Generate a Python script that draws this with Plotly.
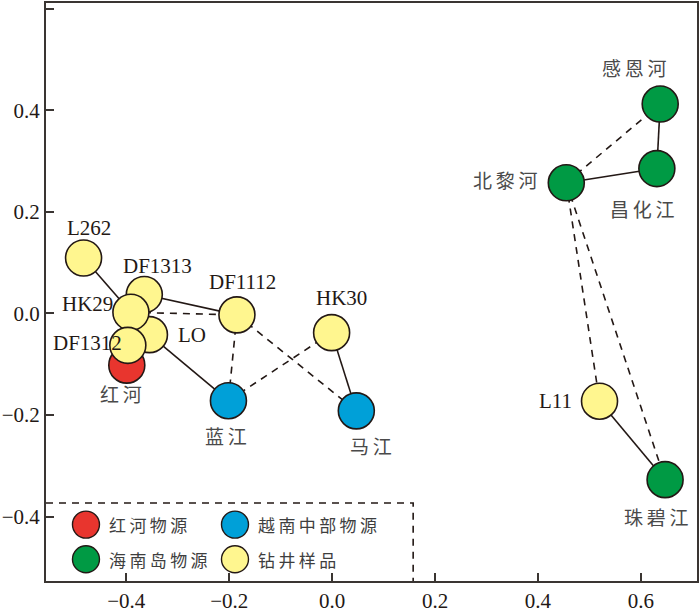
import plotly.graph_objects as go

# ─── DATOS ───
nombres = ["红河", "蓝江", "马江", "感恩河", "昌化江", "北黎河", "珠碧江",
           "L262", "DF1313", "LO", "HK29", "DF1312", "DF1112", "HK30", "L11"]
x_vals = [-0.399, -0.2015, 0.047, 0.6375, 0.631, 0.455, 0.647,
          -0.483, -0.365, -0.355, -0.391, -0.397, -0.185, -0.001, 0.5196]
y_vals = [-0.102, -0.172, -0.192, 0.412, 0.285, 0.257, -0.3275,
          0.109, 0.037, -0.042, 0.002, -0.063, -0.003, -0.038, -0.173]
grupos = ["红河物源", "越南中部物源", "越南中部物源", "海南岛物源", "海南岛物源", "海南岛物源", "海南岛物源",
          "钻井样品", "钻井样品", "钻井样品", "钻井样品", "钻井样品", "钻井样品", "钻井样品", "钻井样品"]

leyenda = ["红河物源", "越南中部物源", "海南岛物源", "钻井样品"]
colores = ["#E8352E", "#00A0D8", "#009A44", "#FFF68F"]

enlaces_solidos = [("L262", "HK29"), ("DF1313", "DF1112"), ("LO", "蓝江"), ("HK30", "马江"),
                   ("感恩河", "昌化江"), ("北黎河", "昌化江"), ("L11", "珠碧江")]
enlaces_discontinuos = [("HK29", "DF1112"), ("DF1112", "蓝江"), ("DF1112", "马江"), ("蓝江", "HK30"),
                        ("北黎河", "感恩河"), ("北黎河", "L11"), ("北黎河", "珠碧江")]

x_ticks = [-0.4, -0.2, 0.0, 0.2, 0.4, 0.6]
y_ticks = [-0.4, -0.2, 0.0, 0.2, 0.4, 0.6]

# posicion de etiquetas (estilo): xanchor, xshift, yshift en px
etiquetas = {
    "红河": ("center", -6, -28), "蓝江": ("center", -2, -35), "马江": ("center", 15, -35),
    "感恩河": ("center", -26, 37), "昌化江": ("center", -14, -40), "北黎河": ("right", -26, 3),
    "珠碧江": ("center", -9, -37), "L262": ("center", 5, 30), "DF1313": ("center", 13, 29),
    "LO": ("left", 27, 0), "HK29": ("right", -16, 8), "DF1312": ("right", -4, 2),
    "DF1112": ("center", 6, 33), "HK30": ("center", 10, 35), "L11": ("right", -26, 0),
}

OSCURO = "#231815"
SERIF = "Liberation Serif, Times New Roman, serif"
CJK = "Noto Sans CJK SC"
idx = {n: i for i, n in enumerate(nombres)}


def segmentos(pares):
    xs, ys = [], []
    for a, b in pares:
        xs += [x_vals[idx[a]], x_vals[idx[b]], None]
        ys += [y_vals[idx[a]], y_vals[idx[b]], None]
    return xs, ys


fig = go.Figure()

xs, ys = segmentos(enlaces_solidos)
fig.add_trace(go.Scatter(x=xs, y=ys, mode="lines", line=dict(color=OSCURO, width=1.6),
                         hoverinfo="skip", showlegend=False))
xs, ys = segmentos(enlaces_discontinuos)
fig.add_trace(go.Scatter(x=xs, y=ys, mode="lines", line=dict(color=OSCURO, width=1.6, dash="7px,6px"),
                         hoverinfo="skip", showlegend=False))

for g, c in zip(leyenda, colores):
    sel = [i for i, gg in enumerate(grupos) if gg == g]
    fig.add_trace(go.Scatter(
        x=[x_vals[i] for i in sel], y=[y_vals[i] for i in sel],
        text=[nombres[i] for i in sel], mode="markers", name=g, showlegend=False,
        marker=dict(size=36, color=c, line=dict(color=OSCURO, width=1.6)),
    ))

for n in nombres:
    xa, dx, dy = etiquetas[n]
    latin = n.isascii()
    fig.add_annotation(
        x=x_vals[idx[n]], y=y_vals[idx[n]], text=n if latin else "\u2009".join(n),
        showarrow=False, xanchor=xa, yanchor="middle", xshift=dx, yshift=dy,
        font=dict(family=SERIF if latin else CJK, size=21 if latin else 19,
                  color=OSCURO if latin else "#4a4a4a"),
    )

# ─── LEYENDA (recuadro discontinuo) ───
caja_x, caja_y = 0.564, 0.135
fig.add_shape(type="path", xref="paper", yref="paper",
              path=f"M 0,{caja_y} L {caja_x},{caja_y} L {caja_x},0",
              line=dict(color=OSCURO, width=1.6, dash="7px,6px"))
pos_leyenda = [(0.0614, 0.0976), (0.2903, 0.0976), (0.0614, 0.0377), (0.2903, 0.0377)]
for (px_, py_), g, c in zip(pos_leyenda, leyenda, colores):
    fig.add_shape(type="circle", xref="paper", yref="paper", xsizemode="pixel", ysizemode="pixel",
                  xanchor=px_, yanchor=py_, x0=-13.5, x1=13.5, y0=-13.5, y1=13.5,
                  fillcolor=c, line=dict(color=OSCURO, width=1.4))
    fig.add_annotation(x=px_ + 0.0323, y=py_, xref="paper", yref="paper", text="\u2009".join(g),
                       showarrow=False, xanchor="left", yanchor="middle",
                       font=dict(family=CJK, size=17, color="#3e3e3e"))

eje = dict(showline=True, linecolor="#3a3532", linewidth=2, mirror=True, showgrid=False,
           zeroline=False, ticks="inside", ticklen=8, tickwidth=2, tickcolor="#3a3532",
           tickformat=".1f", tickfont=dict(family=SERIF, size=21, color=OSCURO))

fig.update_xaxes(range=[-0.556, 0.709], tickvals=x_ticks, **eje)
fig.update_yaxes(range=[-0.527, 0.611], tickvals=y_ticks, **eje)
fig.update_layout(width=700, height=614, margin=dict(l=46, r=3, t=1, b=29),
                  plot_bgcolor="white", paper_bgcolor="white", showlegend=False)

# sin margen del body para que la figura ocupe toda la ventana
fig.write_html("out.html", config={"displayModeBar": False},
               post_script="document.body.style.margin='0';")
